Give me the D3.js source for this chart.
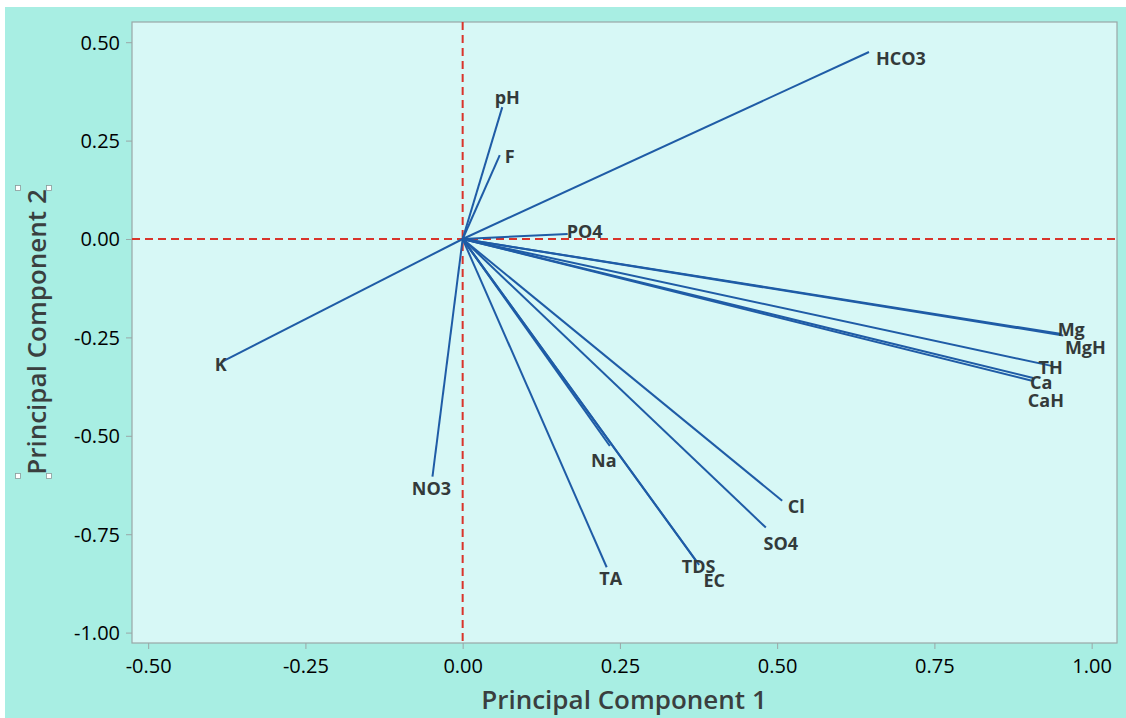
<!DOCTYPE html>
<html>
<head>
<meta charset="utf-8">
<script src="https://cdn.jsdelivr.net/npm/d3@7"></script>
<style>
  html, body { margin: 0; padding: 0; background: #ffffff; }
  svg { display: block; }
  text { font-family: "Open Sans", "Noto Sans", sans-serif; }
</style>
</head>
<body>
<svg id="chart" width="1126" height="718"></svg>
<script>
// PCA loading vectors: variable names and their loadings on PC1 / PC2
const variables = ["HCO3", "pH", "F", "PO4", "K", "NO3", "Na", "TA", "TDS", "EC",
                   "SO4", "Cl", "Mg", "MgH", "TH", "Ca", "CaH"];
const pc1 = [0.646, 0.063, 0.059, 0.167, -0.383, -0.048, 0.234, 0.229, 0.372, 0.376,
             0.482, 0.508, 0.950, 0.955, 0.938, 0.907, 0.905];
const pc2 = [0.475, 0.335, 0.213, 0.013, -0.312, -0.604, -0.526, -0.834, -0.820, -0.828,
             -0.733, -0.665, -0.241, -0.245, -0.323, -0.353, -0.360];

const xTicks = [-0.5, -0.25, 0, 0.25, 0.5, 0.75, 1.0];
const yTicks = [0.5, 0.25, 0, -0.25, -0.5, -0.75, -1.0];

// label nudges (px) so overlapping names stay readable
const labelNudge = {
  HCO3: [32, 6], pH: [5, -10], F: [10, 1], PO4: [17, -3], K: [-1, 2],
  NO3: [-1, 11], Na: [-6, 14], TA: [4, 11], TDS: [2, 4], EC: [15, 15],
  SO4: [15, 15], Cl: [14, 5], Mg: [11, -5], MgH: [22, 12], TH: [-2, 1],
  Ca: [8, 4], CaH: [14, 19]
};

const svg = d3.select("#chart");
const W = 1126, H = 718;
const plot = { left: 132, top: 22, right: 1117, bottom: 643 };

// outer panel
svg.append("rect").attr("x", 5).attr("y", 7).attr("width", W - 5).attr("height", H - 7)
  .attr("fill", "#a8eee3");

const x = d3.scaleLinear().domain([-0.5257, 1.0403]).range([plot.left, plot.right]);
const y = d3.scaleLinear().domain([-1.0264, 0.5513]).range([plot.bottom, plot.top]);

// plot area
svg.append("rect")
  .attr("x", plot.left).attr("y", plot.top)
  .attr("width", plot.right - plot.left).attr("height", plot.bottom - plot.top)
  .attr("fill", "#d7f8f6").attr("stroke", "#9aa7a7").attr("stroke-width", 1.2);

// axes (hyphen-minus for negatives)
const fmt = d => d3.format(".2f")(d).replace("\u2212", "-");
const xAxis = d3.axisBottom(x).tickValues(xTicks).tickFormat(fmt).tickSize(6).tickPadding(6);
const yAxis = d3.axisLeft(y).tickValues(yTicks).tickFormat(fmt).tickSize(6).tickPadding(6);

const gx = svg.append("g").attr("transform", `translate(0,${plot.bottom})`).call(xAxis);
const gy = svg.append("g").attr("transform", `translate(${plot.left},0)`).call(yAxis);
[gx, gy].forEach(g => {
  g.select(".domain").remove();
  g.selectAll(".tick line").attr("stroke", "#9aa7a7");
  g.selectAll(".tick text").attr("fill", "#000").attr("font-size", 20)
    .style("font-family", "'Open Sans', 'Noto Sans', sans-serif")
    .style("font-weight", 500);
});
gx.selectAll(".tick text").attr("dy", "0.9em");
gy.selectAll(".tick text").attr("dy", "0.35em");

// reference lines through the origin
const clipId = "plotclip";
svg.append("clipPath").attr("id", clipId).append("rect")
  .attr("x", plot.left).attr("y", plot.top)
  .attr("width", plot.right - plot.left).attr("height", plot.bottom - plot.top);
const ref = svg.append("g").attr("clip-path", `url(#${clipId})`);
ref.append("line")
  .attr("x1", plot.left).attr("x2", plot.right).attr("y1", y(0)).attr("y2", y(0))
  .attr("stroke", "#d9342b").attr("stroke-width", 2).attr("stroke-dasharray", "8,5");
ref.append("line")
  .attr("x1", x(0)).attr("x2", x(0)).attr("y1", plot.top).attr("y2", plot.bottom)
  .attr("stroke", "#d9342b").attr("stroke-width", 2).attr("stroke-dasharray", "8,5");

// loading vectors
const data = variables.map((v, i) => ({ name: v, a: pc1[i], b: pc2[i] }));
const vec = svg.append("g");
vec.selectAll("line").data(data).join("line")
  .attr("x1", x(0)).attr("y1", y(0))
  .attr("x2", d => x(d.a)).attr("y2", d => y(d.b))
  .attr("stroke", "#1f5ca6").attr("stroke-width", 2);

vec.selectAll("text").data(data).join("text")
  .attr("x", d => x(d.a) + labelNudge[d.name][0])
  .attr("y", d => y(d.b) + labelNudge[d.name][1])
  .attr("text-anchor", "middle").attr("dominant-baseline", "central")
  .attr("font-size", 18).attr("font-weight", 700).attr("fill", "#333a3a")
  .text(d => d.name);

// axis titles
svg.append("text")
  .attr("x", 624).attr("y", 709)
  .attr("text-anchor", "middle").attr("font-size", 26).attr("font-weight", 600).attr("fill", "#3a3f3f")
  .text("Principal Component 1");
svg.append("text")
  .attr("transform", `translate(46,${332}) rotate(-90)`)
  .attr("text-anchor", "middle").attr("font-size", 26).attr("font-weight", 600).attr("fill", "#3a3f3f")
  .text("Principal Component 2");

// selection handles around the vertical title
[[18, 188], [49, 188], [18, 476], [49, 476]].forEach(([hx, hy]) => {
  svg.append("rect").attr("x", hx - 2.5).attr("y", hy - 2.5).attr("width", 5).attr("height", 5)
    .attr("fill", "#ffffff").attr("stroke", "#8a9a9a").attr("stroke-width", 0.8);
});
</script>
</body>
</html>
